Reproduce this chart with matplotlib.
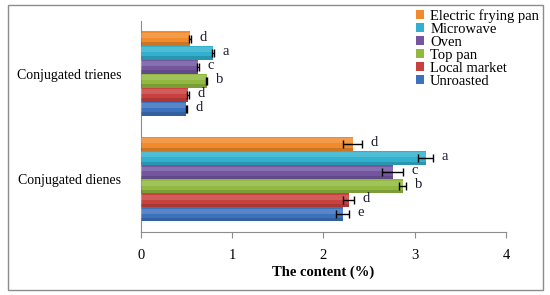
import matplotlib.pyplot as plt
import numpy as np
from matplotlib.patches import Rectangle

# categories (bottom to top on the y axis)
categories = ["Conjugated dienes", "Conjugated trienes"]

# series, plotted bottom to top within each group
series = ["Unroasted", "Local market", "Top pan", "Oven", "Microwave", "Electric frying pan"]
colors = ["#3C72BD", "#C8413F", "#91B93F", "#7456A0", "#31B1CF", "#F08A2C"]

# values per series: [dienes, trienes]
values = [
    [2.21, 0.50],
    [2.28, 0.52],
    [2.87, 0.72],
    [2.76, 0.63],
    [3.12, 0.79],
    [2.32, 0.54],
]
errors = [
    [0.07, 0.01],
    [0.06, 0.01],
    [0.04, 0.01],
    [0.115, 0.01],
    [0.08, 0.01],
    [0.10, 0.01],
]
letters = [
    ["e", "d"],
    ["d", "d"],
    ["b", "b"],
    ["c", "c"],
    ["a", "a"],
    ["d", "d"],
]

x_ticks = [0, 1, 2, 3, 4]

plt.rcParams['font.family'] = ['Liberation Serif', 'DejaVu Serif']

fig = plt.figure(figsize=(5.5, 2.95), dpi=100)
ax = fig.add_axes([0.256, 0.214, 0.664, 0.715])

# outer frame around the whole chart
fig.patches.append(Rectangle((0.015, 0.017), 0.972, 0.966, transform=fig.transFigure,
                             fill=False, edgecolor="#8c8c8c", linewidth=1.0))

n = len(series)
group_w = 0.8
bar_h = group_w / n
y = np.arange(len(categories))

for i, name in enumerate(series):
    pos = y - group_w / 2 + bar_h * (i + 0.5)
    ax.barh(pos, values[i], height=bar_h, color=colors[i], label=name,
            edgecolor="none", zorder=2)
    # soft shading: lighter top, darker bottom edge
    ax.barh(pos + bar_h * 0.22, values[i], height=bar_h * 0.35, color="white",
            alpha=0.15, edgecolor="none", zorder=3)
    ax.barh(pos - bar_h * 0.38, values[i], height=bar_h * 0.24, color="black",
            alpha=0.15, edgecolor="none", zorder=3)
    ax.errorbar(values[i], pos, xerr=errors[i], fmt="none", ecolor="black",
                elinewidth=1.0, capsize=3, capthick=1.0, zorder=4)
    for j in range(len(categories)):
        ax.annotate(letters[i][j], (values[i][j] + errors[i][j], pos[j]),
                    xytext=(6, 1), textcoords="offset points", va="center",
                    ha="left", fontsize=10.5, color="#1a1a2e")

ax.set_xlim(0, 4)
ax.set_ylim(-0.5, 1.5)
ax.set_xticks(x_ticks)
ax.set_xticklabels([str(t) for t in x_ticks], fontsize=10.5)
ax.set_yticks(y)
ax.set_yticklabels(categories, fontsize=10)
ax.tick_params(axis="y", length=0, pad=14)
ax.tick_params(axis="x", length=4, color="#8c8c8c", pad=8)
ax.set_xlabel("The content (%)", fontsize=10.5, fontweight="bold", labelpad=3)

for side in ["top", "right"]:
    ax.spines[side].set_visible(False)
ax.spines["left"].set_color("#8c8c8c")
ax.spines["bottom"].set_color("#8c8c8c")

handles, labels = ax.get_legend_handles_labels()
fig.legend(handles[::-1], labels[::-1], loc="upper left", bbox_to_anchor=(0.745, 0.99),
           frameon=False, fontsize=10.5, handlelength=0.6, handleheight=0.6,
           handletextpad=0.4, labelspacing=0.0, borderaxespad=0)

plt.savefig("out.png", dpi=100)
